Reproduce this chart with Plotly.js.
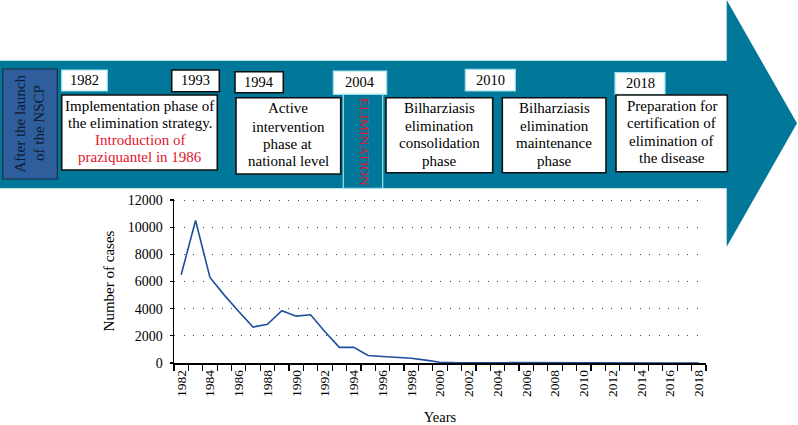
<!DOCTYPE html>
<html>
<head>
<meta charset="utf-8">
<script src="https://cdn.plot.ly/plotly-3.0.1.min.js"></script>
<style>html,body{margin:0;padding:0;background:#fff;}#chart{width:798px;height:425px;}</style>
</head>
<body>
<div id="chart"></div>
<script>
// ---- data ----
var years = [1982,1983,1984,1985,1986,1987,1988,1989,1990,1991,1992,1993,1994,1995,1996,1997,1998,1999,2000,
             2001,2002,2003,2004,2005,2006,2007,2008,2009,2010,2011,2012,2013,2014,2015,2016,2017,2018];
var cases = [6500,10500,6300,5000,3800,2650,2850,3850,3450,3550,2300,1150,1150,550,480,420,350,210,60,
             30,25,20,20,18,15,15,12,12,10,10,8,8,6,6,5,5,5];
var yTicks = [0,2000,4000,6000,8000,10000,12000];
var xTitle = "Years";
var yTitle = "Number of cases";

// ---- geometry helpers (pixel -> paper) ----
var L = 174, R = 92, T = 199, B = 62, W = 798, H = 425;
var PW = W - L - R, PH = H - T - B;
function X(px){ return (px - L) / PW; }
function Y(py){ return (H - B - py) / PH; }

var TEAL = "#017899";
var RED = "#E3142B";
var FONT = "Liberation Serif, Times New Roman, serif";

var shapes = [];
var annotations = [];

// big arrow
var arrowPath = "M" + X(0) + "," + Y(60.7) + " L" + X(726.7) + "," + Y(60.7) + " L" + X(726.7) + "," + Y(0) +
  " L" + X(797) + "," + Y(123.3) + " L" + X(726.7) + "," + Y(246.7) + " L" + X(726.7) + "," + Y(188.3) +
  " L" + X(0) + "," + Y(188.3) + " Z";
shapes.push({type:"path", xref:"paper", yref:"paper", path:arrowPath, fillcolor:TEAL, line:{width:0}, layer:"above"});

function box(x0,y0,x1,y1,fill,lineColor,lw){
  shapes.push({type:"rect", xref:"paper", yref:"paper", x0:X(x0), x1:X(x1), y0:Y(y1), y1:Y(y0),
    fillcolor:fill, line:{color:lineColor, width:lw}, layer:"above"});
}
function txt(x,y,t,size,color,angle){
  annotations.push({xref:"paper", yref:"paper", x:X(x), y:Y(y), text:t, showarrow:false,
    xanchor:"center", yanchor:"middle", textangle:angle||0,
    font:{family:FONT, size:size, color:color||"#000"}});
}

var FS = 15;

// NSCP box
box(2.7,69,57.3,179,"#2F5E9C","#1a2a40",1.2);
txt(20,123.5,"After the launch",FS,"#0d1a33",-90);
txt(39.5,123.5,"of the NSCP",FS,"#0d1a33",-90);

// year boxes
box(61.7,70,107.3,91,"#ffffff","#9fe0ee",1.2); txt(84.5,80.5,"1982",14.5);
box(171.7,70,219.3,91.7,"#ffffff","#111",1.6); txt(195.5,80.5,"1993",14.5);
box(235,71.7,283.3,92.7,"#ffffff","#111",1.6); txt(259.2,82,"1994",14.5);
box(333.3,71,386.7,94.3,"#ffffff","#9fe0ee",1.2); txt(360,82.5,"2004",14.5);
box(465.3,69.3,515.3,91,"#ffffff","#9fe0ee",1.2); txt(490.3,80,"2010",14.5);
box(615,72.7,665,94.3,"#ffffff","#9fe0ee",1.2); txt(640,83.5,"2018",14.5);

// phase boxes
box(61.7,95,217.3,170,"#ffffff","#111",1.6);
txt(139.5,105.7,"Implementation phase of",FS);
txt(139.5,122.7,"the elimination strategy.",FS);
txt(139.5,140,"Introduction of",FS,RED);
txt(139.5,156.7,"praziquantel in 1986",FS,RED);

box(236,97.7,340.7,174,"#ffffff","#111",1.6);
txt(288.3,108.3,"Active",FS);
txt(288.3,126.7,"intervention",FS);
txt(288.3,143.8,"phase at",FS);
txt(288.3,161,"national level",FS);

box(343.3,94.3,382.7,188.3,TEAL,"#9fe0ee",1.2);
txt(364.5,141.5,"ELIMINATION",13.5,RED,90);

box(386,97.7,492.7,172.7,"#ffffff","#111",1.6);
txt(439.3,108.3,"Bilharziasis",FS);
txt(439.3,126,"elimination",FS);
txt(439.3,143.3,"consolidation",FS);
txt(439.3,161,"phase",FS);

box(502.3,97.7,606,172.7,"#ffffff","#111",1.6);
txt(554.2,108.3,"Bilharziasis",FS);
txt(554.2,126,"elimination",FS);
txt(554.2,143.3,"maintenance",FS);
txt(554.2,161,"phase",FS);

box(616,95,727.3,171.7,"#ffffff","#111",1.6);
txt(671.7,105.7,"Preparation for",FS);
txt(671.7,123.3,"certification of",FS);
txt(671.7,141,"elimination of",FS);
txt(671.7,158.3,"the disease",FS);

var trace = {x:years, y:cases, type:"scatter", mode:"lines",
  line:{color:"#1D4F9C", width:1.6}, hoverinfo:"skip"};

var layout = {
  width:W, height:H,
  margin:{l:L, r:R, t:T, b:B, pad:0},
  paper_bgcolor:"#ffffff", plot_bgcolor:"#ffffff",
  showlegend:false,
  font:{family:FONT, size:13.5, color:"#000"},
  xaxis:{
    type:"linear", range:[1981.5, 2018.5], tickmode:"linear", tick0:1982, dtick:2,
    tickangle:-90, ticks:"", showgrid:false, zeroline:false,
    showline:true, linecolor:"#000", linewidth:1.5,
    tickfont:{family:FONT, size:13.5, color:"#000"},
    minor:{tickmode:"linear", tick0:1981.5, dtick:1, ticks:"outside", ticklen:6, tickwidth:1.2, tickcolor:"#000", showgrid:false},
    title:{text:xTitle, font:{family:FONT, size:14.5, color:"#000"}, standoff:20}
  },
  yaxis:{
    range:[0,12080], tickmode:"array", tickvals:yTicks, ticktext:yTicks.map(String),
    ticks:"outside", ticklen:3, tickwidth:1.2, tickcolor:"#000", ticklabelstandoff:4,
    showgrid:true, gridcolor:"#444", gridwidth:1.1, griddash:"1px,8.5px",
    zeroline:false, showline:true, linecolor:"#000", linewidth:1.5,
    tickfont:{family:FONT, size:14, color:"#000"},
    title:{text:yTitle, font:{family:FONT, size:15, color:"#000"}, standoff:9}
  },
  shapes:shapes,
  annotations:annotations
};

Plotly.newPlot("chart", [trace], layout, {staticPlot:true, displayModeBar:false});
</script>
</body>
</html>
